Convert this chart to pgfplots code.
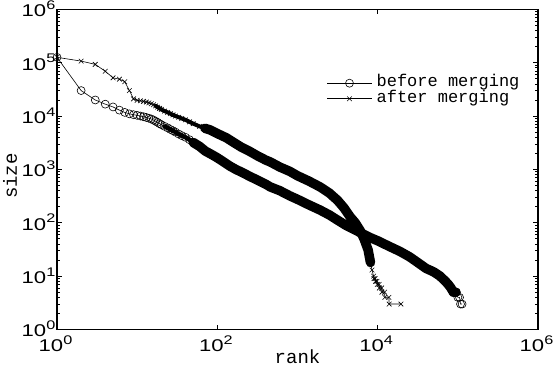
\documentclass[border=0pt]{standalone}
\usepackage{pgfplots}
\pgfplotsset{compat=1.18}
\usepackage{pgfplotstable}
\usepackage{fontspec}
\setmainfont{Liberation Sans}
\setmonofont{Liberation Mono}
\newfontfamily\tickfont[FakeStretch=1.3]{Liberation Sans}
\newcommand\tk[1]{10\raisebox{7.4pt}{\fontsize{12.5}{12.5}\selectfont #1}}

\pgfplotstableread{
rank size
1 126000
2 30000
3 20000
4 16700
5 14800
6 12900
7 11700
8 11000
9 10600
10 10300
11 10000
12 9700
13 9400
14 9100
15 8800
16 8400
17 8000
18 7600
19 7200
20 6900
22 6400
24 6000
26 5600
28 5300
30 5000
33 4600
36 4300
40 4000
45 3600
50 3200
60 2700
71 2200
85 1900
100 1650
120 1380
144 1150
170 1000
200 890
250 750
316 630
400 530
457 470
600 400
800 320
1000 275
1400 215
1900 174
2500 140
3160 112
4000 90
5000 76
6000 66
8000 53
10000 46
14000 36
19000 29
25000 23
31600 18
40000 14
50000 12
60000 10
70000 8
76000 7
82000 6
88000 5
95000 5
100000 4
105000 4
108000 3
113000 3
}\before

\pgfplotstableread{
rank size
1 126000
2 107000
3 93000
4 69000
5 52000
6 49000
7 44000
8 30000
9 21000
10 19700
11 19300
12 18800
13 18300
14 17700
15 17000
16 16300
17 15500
18 14700
19 13900
20 13300
22 12400
24 11700
26 11100
28 10500
30 10000
33 9500
36 9000
40 8500
45 7800
50 7200
60 6400
70 5900
81 5500
100 4700
130 3900
160 3200
200 2600
250 2200
316 1800
400 1500
457 1380
607 1100
800 920
1000 760
1400 600
1910 470
2500 360
3160 263
3800 190
4540 129
5250 100
6030 72
6760 50
7600 31
8130 18
8500 13
8900 10
9000 9
9300 9
9400 8
9800 8
9900 7
10400 7
10500 6
11200 6
11300 5
12200 5
12300 4
13800 4
13900 3
19500 3
}\after

\begin{document}
\begin{tikzpicture}
\useasboundingbox (-57pt,-46.5pt) rectangle (496pt,329.5pt);
\begin{axis}[
  scale only axis, width=481pt, height=320.2pt,
  xmode=log, ymode=log,
  xmin=1, xmax=1000000, ymin=1, ymax=1000000,
  xtick={1,100,10000,1000000},
  xticklabels={\tk{0},\tk{2},\tk{4},\tk{6}},
  xminorticks=false,
  ytick={1,10,100,1000,10000,100000,1000000},
  yticklabels={\tk{0},\tk{1},\tk{2},\tk{3},\tk{4},\tk{5},\tk{6}},
  minor ytick={2,3,4,5,6,7,8,9,20,30,40,50,60,70,80,90,200,300,400,500,600,700,800,900,2000,3000,4000,5000,6000,7000,8000,9000,20000,30000,40000,50000,60000,70000,80000,90000,200000,300000,400000,500000,600000,700000,800000,900000},
  tick align=inside,
  major tick length=5pt, minor tick length=2.8pt,
  tick style={line width=0.8pt, black},
  axis line style={line width=1.2pt},
  every tick label/.append style={font=\tickfont\fontsize{17}{17}\selectfont, inner sep=0pt},
  xticklabel style={anchor=base, yshift=-22.2pt, xshift=-1.5pt},
  yticklabel style={anchor=base east, xshift=-1.5pt, yshift=-7.4pt},
  xlabel={rank}, ylabel={size},
  label style={font=\ttfamily\fontsize{19}{19}\selectfont},
  xlabel style={at={(axis description cs:0.5,-0.1077)}, anchor=base},
  ylabel style={at={(axis description cs:-0.0835,0.479)}, anchor=base},
  legend style={draw=none, fill=none, at={(axis description cs:0.5607,0.7914)}, anchor=north west,
    inner sep=0pt, outer sep=0pt, row sep=0pt, column sep=4.3pt,
    nodes={inner sep=0pt, text height=10.6pt, text depth=5pt, anchor=base west},
    font=\ttfamily\fontsize{17}{17}\selectfont},
  legend cell align=left,
  legend image code/.code={\draw[#1, mark repeat=2, mark phase=2] plot coordinates {(0pt,3.5pt) (22.5pt,3.5pt) (45pt,3.5pt)};},
]
% dense marks merge into bands: thinner where they only overlap, solid where packed
\addplot[black, line width=4.5pt, line cap=round, line join=round, forget plot,
  skip coords between index={0}{20}, skip coords between index={30}{200}] table[x=rank,y=size] {\before};
\addplot[black, line width=9.5pt, line cap=round, line join=round, forget plot,
  skip coords between index={0}{29}, skip coords between index={66}{200}] table[x=rank,y=size] {\before};
\addplot[black, line width=4pt, line cap=round, line join=round, forget plot,
  skip coords between index={0}{16}, skip coords between index={32}{200}] table[x=rank,y=size] {\after};
\addplot[black, line width=9.5pt, line cap=round, line join=round, forget plot,
  skip coords between index={0}{31}, skip coords between index={55}{200}] table[x=rank,y=size] {\after};
% main series
\addplot[black, line width=0.6pt, mark=o, mark size=4pt, mark options={solid, line width=0.6pt}] table[x=rank,y=size] {\before};
\addlegendentry{before merging}
\addplot[black, line width=0.6pt, mark=x, mark size=3.3pt, mark options={solid, line width=0.6pt}] table[x=rank,y=size] {\after};
\addlegendentry{after merging}
\end{axis}
\end{tikzpicture}
\end{document}
